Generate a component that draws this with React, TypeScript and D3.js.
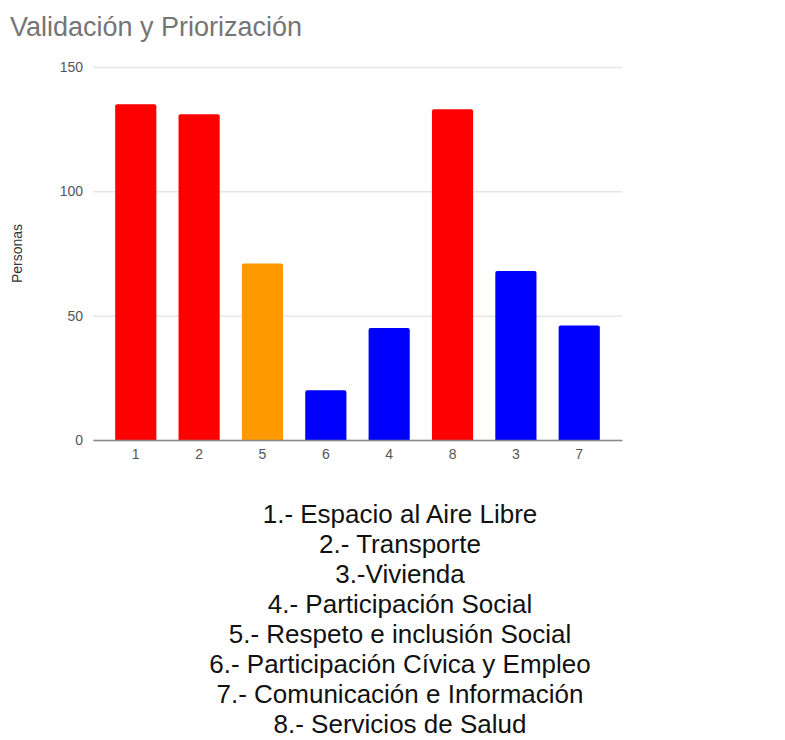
import React, { useEffect, useRef } from 'react';
import * as d3 from 'd3';

const categories = ['1', '2', '5', '6', '4', '8', '3', '7'];
const personas = [135, 131, 71, 20, 45, 133, 68, 46];
const barColors = ['#ff0000', '#ff0000', '#ff9900', '#0000ff', '#0000ff', '#ff0000', '#0000ff', '#0000ff'];
const yTicks = [0, 50, 100, 150];
const legendLines = [
  '1.- Espacio al Aire Libre',
  '2.- Transporte',
  '3.-Vivienda',
  '4.- Participación Social',
  '5.- Respeto e inclusión Social',
  '6.- Participación Cívica y Empleo',
  '7.- Comunicación e Información',
  '8.- Servicios de Salud',
];

const font = 'Arial, "Liberation Sans", sans-serif';

const App: React.FC = () => {
  const chartRef = useRef<SVGSVGElement | null>(null);

  useEffect(() => {
    const svg = d3.select(chartRef.current);
    const width = 785;
    const height = 740;
    const margin = { top: 67, right: 163, bottom: 300, left: 93 };

    svg.attr('width', width).attr('height', height);
    svg.selectAll('*').remove();

    const data = categories.map((key, i) => ({ key, value: personas[i], color: barColors[i] }));

    const x = d3
      .scaleBand()
      .domain(categories)
      .range([margin.left, width - margin.right])
      .padding(0.35);

    const y = d3
      .scaleLinear()
      .domain([0, 150])
      .range([height - margin.bottom, margin.top]);

    svg
      .append('rect')
      .attr('width', width)
      .attr('height', height)
      .attr('fill', '#fff');

    // title
    svg
      .append('text')
      .attr('x', 10)
      .attr('y', 36)
      .attr('fill', '#757575')
      .style('font-family', font)
      .style('font-size', '27px')
      .text('Validación y Priorización');

    // gridlines + y labels
    const yAxis = svg
      .append('g')
      .attr('transform', `translate(${margin.left},0)`)
      .call(
        d3
          .axisLeft(y)
          .tickValues(yTicks)
          .tickSize(-(width - margin.left - margin.right))
          .tickPadding(10)
      )
      .call((g) => g.select('.domain').remove());
    yAxis.selectAll('.tick line').attr('stroke', '#e6e6e6').attr('stroke-width', 1.5);
    yAxis
      .selectAll('.tick text')
      .attr('fill', '#555')
      .style('font-family', font)
      .style('font-size', '14px');

    svg
      .append('text')
      .attr('transform', `translate(22,${(y(0) + y(150)) / 2}) rotate(-90)`)
      .attr('text-anchor', 'middle')
      .attr('fill', '#333')
      .style('font-family', font)
      .style('font-size', '14px')
      .text('Personas');

    // bars
    svg
      .append('g')
      .selectAll('path')
      .data(data)
      .join('path')
      .attr('d', (d) => {
        const x0 = x(d.key)!;
        const w = x.bandwidth();
        const y0 = y(d.value);
        const y1 = y(0);
        const r = 2;
        return `M${x0},${y1}V${y0 + r}Q${x0},${y0} ${x0 + r},${y0}H${x0 + w - r}Q${x0 + w},${y0} ${x0 + w},${y0 + r}V${y1}Z`;
      })
      .attr('fill', (d) => d.color);

    // baseline + x labels
    const xAxis = svg
      .append('g')
      .attr('transform', `translate(0,${y(0)})`)
      .call(d3.axisBottom(x).tickSize(0).tickPadding(9));
    xAxis.select('.domain').attr('stroke', '#888').attr('stroke-width', 1.5);
    xAxis
      .selectAll('.tick text')
      .attr('fill', '#555')
      .style('font-family', font)
      .style('font-size', '14px');

    // legend text
    svg
      .append('g')
      .selectAll('text')
      .data(legendLines)
      .join('text')
      .attr('x', 400)
      .attr('y', (_, i) => 523 + i * 30)
      .attr('text-anchor', 'middle')
      .attr('fill', '#111')
      .style('font-family', font)
      .style('font-size', '26px')
      .text((d) => d);
  }, []);

  return (
    <div>
      <svg ref={chartRef} style={{ position: 'absolute', left: 0, top: 0 }}></svg>
    </div>
  );
};

export default App;
